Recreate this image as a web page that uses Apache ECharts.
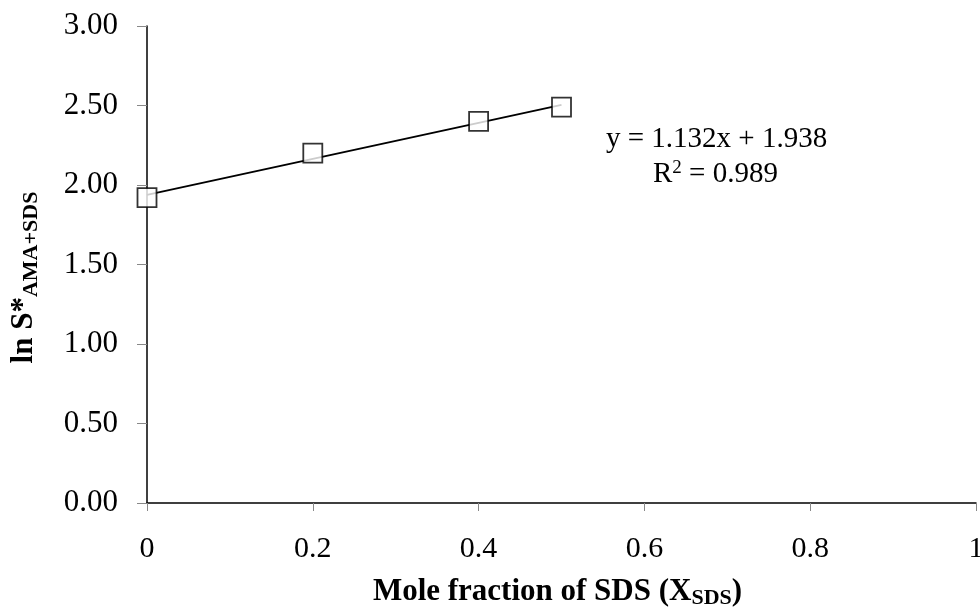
<!DOCTYPE html>
<html><head><meta charset="utf-8">
<script src="https://cdn.jsdelivr.net/npm/echarts@6/dist/echarts.min.js"></script>
<style>html,body{margin:0;padding:0;background:#fff}#c{width:980px;height:611px}</style>
</head><body><div id="c"></div>
<script>
var xValues = [0, 0.2, 0.4, 0.5];
var yValues = [1.92, 2.20, 2.40, 2.49];
var trendX = [0, 0.5];
var slope = 1.132, intercept = 1.938;
var yTicks = [0, 0.5, 1, 1.5, 2, 2.5, 3];
var xTicks = [0, 0.2, 0.4, 0.6, 0.8, 1];

var font = '"Liberation Serif", "Times New Roman", serif';
var chart = echarts.init(document.getElementById('c'));
chart.setOption({
  animation: false,
  grid: {left: 147, right: 4, top: 26, bottom: 108, containLabel: false, outerBoundsMode: 'none'},
  xAxis: {
    type: 'value', min: 0, max: 1, interval: 0.2,
    axisLine: {lineStyle: {color: '#000', width: 1.5}},
    axisTick: {length: 8, lineStyle: {color: '#888'}},
    splitLine: {show: false},
    axisLabel: {color: '#000', fontFamily: font, fontSize: 30, margin: 31, hideOverlap: false,
      formatter: function(v){ return String(+v.toFixed(1)); }},
    name: '{b|Mole fraction of SDS (X}{s|SDS}{b|)}',
    nameLocation: 'middle', nameGap: 72,
    nameTextStyle: {padding: [0, 8, 0, 0], rich: {
      b: {fontFamily: font, fontWeight: 'bold', fontSize: 31, color: '#000'},
      s: {fontFamily: font, fontWeight: 'bold', fontSize: 22, color: '#000', padding: [12,0,0,0]}
    }}
  },
  yAxis: {
    type: 'value', min: 0, max: 3, interval: 0.5,
    axisLine: {show: true, lineStyle: {color: '#000', width: 1.5}},
    axisTick: {show: true, length: 10, lineStyle: {color: '#888'}},
    splitLine: {show: false},
    axisLabel: {color: '#000', fontFamily: font, fontSize: 31, margin: 29,
      formatter: function(v){ return v.toFixed(2); }},
    name: '{b|ln S*}{s|AMA+SDS}',
    nameLocation: 'middle', nameGap: 105,
    nameTextStyle: {padding: [0, 26, 0, 0], rich: {
      b: {fontFamily: font, fontWeight: 'bold', fontSize: 31, color: '#000'},
      s: {fontFamily: font, fontWeight: 'bold', fontSize: 22, color: '#000', padding: [14,0,0,0]}
    }}
  },
  series: [
    {
      type: 'line', data: trendX.map(function(x){ return [x, slope*x + intercept]; }),
      symbol: 'none', lineStyle: {color: '#000', width: 2}, z: 2, silent: true
    },
    {
      type: 'scatter', data: xValues.map(function(x, i){ return [x, yValues[i]]; }),
      symbol: 'rect', symbolSize: 19,
      itemStyle: {color: '#fff', borderColor: '#000', borderWidth: 1.8}, z: 3
    }
  ],
  graphic: [
    {type: 'text', left: 606, top: 125, style: {text: 'y = 1.132x + 1.938', font: '29px ' + font, fill: '#000'}},
    {type: 'text', left: 653, top: 159, style: {
      text: '{a|R}{p|2}{a| = 0.989}',
      rich: {a: {font: '29px ' + font, fill: '#000'}, p: {font: '19px ' + font, fill: '#000', padding: [0,0,12,0]}}
    }}
  ]
});
</script></body></html>
